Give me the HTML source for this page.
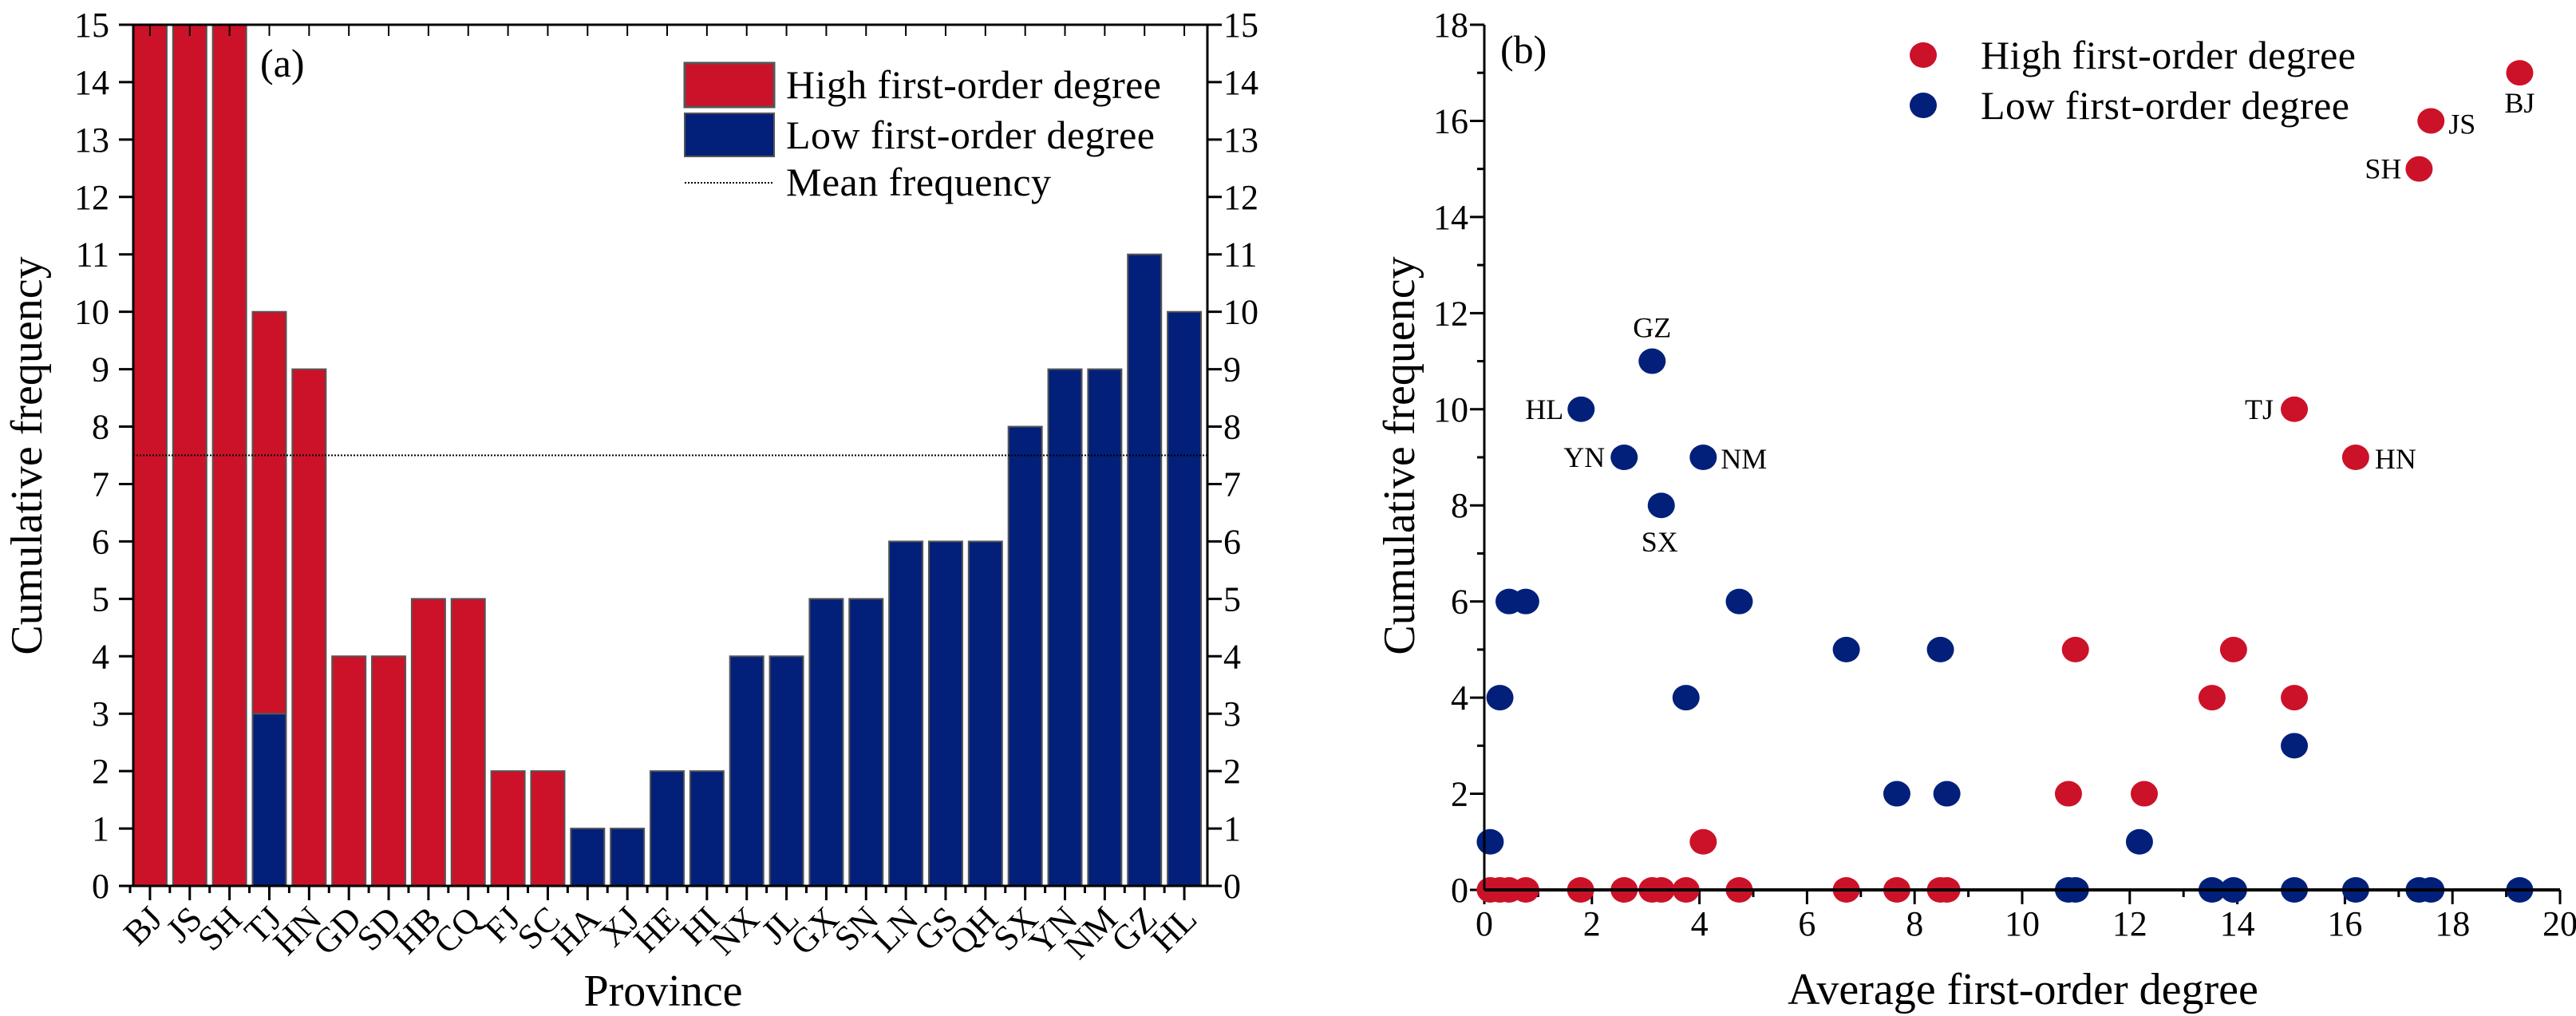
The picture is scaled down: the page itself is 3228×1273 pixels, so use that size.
<!DOCTYPE html>
<html><head><meta charset="utf-8"><style>
html,body{margin:0;padding:0;background:#fff}
svg{display:block;font-family:"Liberation Serif","DejaVu Serif",serif}
</style></head><body>
<svg id="c" width="3228" height="1273" viewBox="0 0 3228 1273" xmlns="http://www.w3.org/2000/svg">
<g id="ga"></g>
<g id="gb"></g>
</svg>
<script>
// Panel (a) data
const provinces = ["BJ","JS","SH","TJ","HN","GD","SD","HB","CQ","FJ","SC","HA","XJ","HE","HI","NX","JL","GX","SN","LN","GS","QH","SX","YN","NM","GZ","HL"];
const highFreq = [17,16,15,7,9,4,4,5,5,2,2,0,0,0,0,0,0,0,0,0,0,0,0,0,0,0,0];
const lowFreq  = [0,0,0,3,0,0,0,0,0,0,0,1,1,2,2,4,4,5,5,6,6,6,8,9,9,11,10];
const meanFreq = 7.5;
const yTicksA = [0,1,2,3,4,5,6,7,8,9,10,11,12,13,14,15];
// Panel (b) data
const highX = [19.25,17.6,17.38,15.06,16.2,10.99,13.93,13.53,15.06,10.86,12.27,4.07,0.11,0.29,0.46,0.77,1.79,2.6,3.12,3.29,3.75,4.74,6.73,7.67,8.48,8.6];
const highY = [17,16,15,10,9,5,5,4,4,2,2,1,0,0,0,0,0,0,0,0,0,0,0,0,0,0];
const highLbl = ["BJ","JS","SH","TJ","HN","","","","","","","","","","","","","","","","","","","","",""];
const lowX = [3.12,1.8,2.6,4.07,3.29,0.46,0.77,4.74,6.73,8.48,0.29,3.75,15.06,7.67,8.6,0.11,12.18,10.86,10.99,13.53,13.93,15.06,16.2,17.38,17.6,19.25];
const lowY = [11,10,9,9,8,6,6,6,5,5,4,4,3,2,2,1,1,0,0,0,0,0,0,0,0,0];
const lowLbl = ["GZ","HL","YN","NM","SX","","","","","","","","","","","","","","","","","","","","",""];
const xTicksB = [0,2,4,6,8,10,12,14,16,18,20];
const yTicksB = [0,2,4,6,8,10,12,14,16,18];

const NS="http://www.w3.org/2000/svg";
function mk(parent,tag,attrs,text){const e=document.createElementNS(NS,tag);for(const k in attrs)e.setAttribute(k,attrs[k]);if(text!==undefined)e.textContent=text;parent.appendChild(e);return e;}
const RED="#cc1228", BLUE="#02207a";

// ---------- Panel A ----------
const ga=document.getElementById('ga');
const aL=167,aR=1513,aT=31,aB=1110,aMax=15;
const ya=v=>aB-(Math.min(v,aMax)/aMax)*(aB-aT);
const step=(aR-aL)/provinces.length;
const xa=i=>aL+step*(i+0.5)-4;
const bw=42;
provinces.forEach((p,i)=>{
  const lo=lowFreq[i],hi=highFreq[i];
  if(lo>0){const r=mk(ga,'rect',{x:xa(i)-bw/2,y:ya(lo),width:bw,height:ya(0)-ya(lo),fill:BLUE,stroke:'#555','stroke-width':2});
    }
  if(hi>0){const r=mk(ga,'rect',{x:xa(i)-bw/2,y:ya(lo+hi),width:bw,height:ya(lo)-ya(lo+hi),fill:RED,stroke:'#555','stroke-width':2});
    }
  const t=mk(ga,'text',{x:0,y:0,'font-size':44,'text-anchor':'end',transform:`translate(${xa(i)+18},${aB+44}) rotate(-45)`},p);
  
  mk(ga,'line',{x1:xa(i),x2:xa(i),y1:aB,y2:aB+18,stroke:'#000','stroke-width':3});
  mk(ga,'line',{x1:xa(i)-step/2,x2:xa(i)-step/2,y1:aB,y2:aB+9,stroke:'#000','stroke-width':3});
  mk(ga,'line',{x1:xa(i),x2:xa(i),y1:aT,y2:aT+14,stroke:'#000','stroke-width':2});
});
const ml=mk(ga,'line',{x1:aL,x2:aR,y1:ya(meanFreq),y2:ya(meanFreq),stroke:'#000','stroke-width':2,'stroke-dasharray':'2,2'});

mk(ga,'rect',{x:aL,y:aT,width:aR-aL,height:aB-aT,fill:'none',stroke:'#000','stroke-width':3});
yTicksA.forEach(v=>{
  mk(ga,'line',{x1:aL-18,x2:aL,y1:ya(v),y2:ya(v),stroke:'#000','stroke-width':3});
  mk(ga,'line',{x1:aR,x2:aR+18,y1:ya(v),y2:ya(v),stroke:'#000','stroke-width':3});
  const t=mk(ga,'text',{x:aL-30,y:ya(v)+15,'font-size':44,'text-anchor':'end'},String(v));
  
  const t2=mk(ga,'text',{x:aR+20,y:ya(v)+15,'font-size':44,'text-anchor':'start'},String(v));
  
});
let t=mk(ga,'text',{x:0,y:0,'font-size':56,'text-anchor':'middle',transform:'translate(52,571) rotate(-90)'},'Cumulative frequency');

t=mk(ga,'text',{x:831,y:1260,'font-size':56,'text-anchor':'middle'},'Province');

t=mk(ga,'text',{x:326,y:96,'font-size':50},'(a)');

// legend a
let r=mk(ga,'rect',{x:858,y:79,width:112,height:55,fill:RED,stroke:'#555','stroke-width':3});

r=mk(ga,'rect',{x:858,y:142,width:112,height:54,fill:BLUE,stroke:'#555','stroke-width':2});

mk(ga,'line',{x1:858,x2:970,y1:229,y2:229,stroke:'#000','stroke-width':2,'stroke-dasharray':'2,2'});
t=mk(ga,'text',{x:985,y:123,'font-size':50,textLength:470},'High first-order degree');

t=mk(ga,'text',{x:985,y:186,'font-size':50,textLength:462},'Low first-order degree');

t=mk(ga,'text',{x:985,y:245,'font-size':50,textLength:332},'Mean frequency');


// ---------- Panel B ----------
const gb=document.getElementById('gb');
const bL=1860,bR=3208,bT=31,bB=1115;
const xb=v=>bL+v/20*(bR-bL);
const yb=v=>bB-v/18*(bB-bT);
xTicksB.forEach(v=>{
  mk(gb,'line',{x1:xb(v),x2:xb(v),y1:bB,y2:bB+18,stroke:'#000','stroke-width':3});
  if(v<20)mk(gb,'line',{x1:xb(v+1),x2:xb(v+1),y1:bB,y2:bB+9,stroke:'#000','stroke-width':3});
  const tt=mk(gb,'text',{x:xb(v),y:1172,'font-size':44,'text-anchor':'middle'},String(v));
  
});
yTicksB.forEach(v=>{
  mk(gb,'line',{x1:bL-18,x2:bL,y1:yb(v),y2:yb(v),stroke:'#000','stroke-width':3});
  if(v<18)mk(gb,'line',{x1:bL-9,x2:bL,y1:yb(v+1),y2:yb(v+1),stroke:'#000','stroke-width':3});
  const tt=mk(gb,'text',{x:1840,y:yb(v)+15,'font-size':44,'text-anchor':'end'},String(v));
  
});
function drawPts(X,Y,L,col,nm){
  X.forEach((x,i)=>{
    const c=mk(gb,'ellipse',{cx:xb(x),cy:yb(Y[i]),rx:17,ry:16,fill:col});
    
  });
}
drawPts(highX,highY,highLbl,RED,'high');
drawPts(lowX,lowY,lowLbl,BLUE,'low');
const lblPos={BJ:[0,50,'middle'],JS:[22,16,'start'],SH:[-22,12,'end'],TJ:[-26,12,'end'],HN:[24,14,'start'],GZ:[0,-30,'middle'],HL:[-22,12,'end'],YN:[-24,12,'end'],NM:[22,14,'start'],SX:[-2,58,'middle']};
function drawLbls(X,Y,L){
  L.forEach((l,i)=>{ if(!l)return; const p=lblPos[l]||[20,12,'start'];
    const tt=mk(gb,'text',{x:xb(X[i])+p[0],y:yb(Y[i])+p[1],'font-size':36,'text-anchor':p[2]},l);
    });
}
drawLbls(highX,highY,highLbl);drawLbls(lowX,lowY,lowLbl);
mk(gb,'line',{x1:bL,x2:bL,y1:bT,y2:bB,stroke:'#000','stroke-width':3});
mk(gb,'line',{x1:bL,x2:bR,y1:bB,y2:bB,stroke:'#000','stroke-width':4});
t=mk(gb,'text',{x:0,y:0,'font-size':56,'text-anchor':'middle',transform:'translate(1772,571) rotate(-90)'},'Cumulative frequency');

t=mk(gb,'text',{x:2535,y:1258,'font-size':56,'text-anchor':'middle'},'Average first-order degree');

t=mk(gb,'text',{x:1880,y:79,'font-size':50},'(b)');

let e=mk(gb,'ellipse',{cx:2410,cy:69,rx:17,ry:16,fill:RED});

e=mk(gb,'ellipse',{cx:2410,cy:132,rx:17,ry:16,fill:BLUE});

t=mk(gb,'text',{x:2482,y:86,'font-size':50,textLength:470},'High first-order degree');

t=mk(gb,'text',{x:2482,y:149,'font-size':50,textLength:462},'Low first-order degree');

</script>
</body></html>
